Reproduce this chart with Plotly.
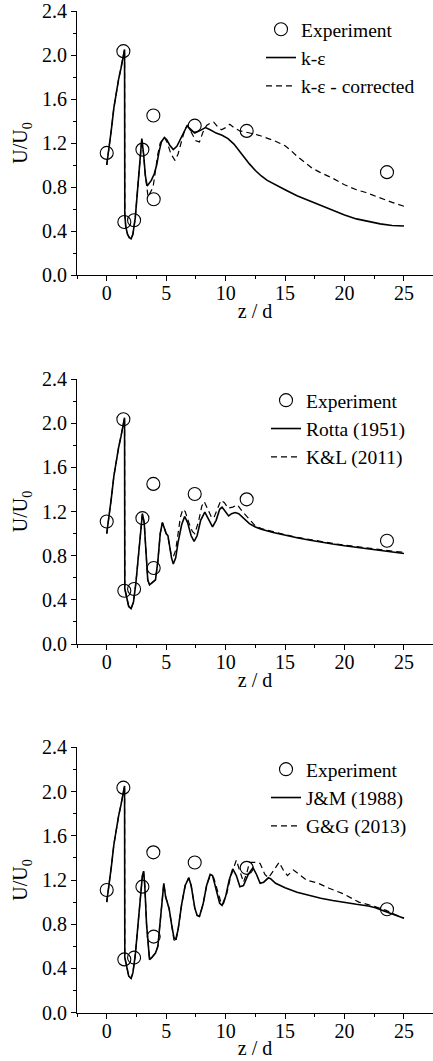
import plotly.graph_objects as go

# ---------------- data ----------------
exp_z = [0.0, 1.4, 1.48, 2.3, 3.0, 3.92, 3.95, 7.4, 11.77, 23.57]
exp_u = [1.11, 2.035, 0.482, 0.498, 1.14, 1.45, 0.688, 1.358, 1.31, 0.935]

# panel 1
ke_z = [0, 0.2, 0.4, 0.6, 0.8, 1.0, 1.2, 1.4, 1.5, 1.52, 1.6, 1.75, 1.9, 2.05, 2.2, 2.4, 2.6, 2.8, 2.95,
        3.1, 3.25, 3.4, 3.55, 3.75, 4.0, 4.2, 4.4, 4.6, 4.85, 5.05, 5.3, 5.6, 5.9, 6.2, 6.5, 6.75, 7.0,
        7.4, 7.8, 8.3, 8.7, 9.2, 9.7, 10.2, 10.7, 11.2, 11.6, 12.0, 12.5, 13.0, 13.5, 14.0, 15.0, 16.0,
        17.0, 18.0, 19.0, 20.0, 21.0, 22.0, 23.0, 24.0, 25.0]
ke_u = [1.0, 1.15, 1.33, 1.52, 1.67, 1.78, 1.88, 1.99, 2.05, 0.55, 0.44, 0.37, 0.34, 0.33, 0.37, 0.52, 0.76, 1.02, 1.24,
        1.1, 0.9, 0.81, 0.83, 0.86, 0.92, 1.0, 1.12, 1.21, 1.25, 1.23, 1.18, 1.14, 1.17, 1.24, 1.31, 1.355, 1.33,
        1.29, 1.31, 1.34, 1.32, 1.29, 1.27, 1.24, 1.19, 1.12, 1.06, 1.01, 0.95, 0.90, 0.86, 0.83, 0.775, 0.72,
        0.675, 0.63, 0.585, 0.545, 0.51, 0.485, 0.465, 0.45, 0.445]

kec_z = [0, 0.2, 0.4, 0.6, 0.8, 1.0, 1.2, 1.4, 1.5, 1.52, 1.6, 1.75, 1.9, 2.05, 2.2, 2.4, 2.6, 2.8, 2.95,
         3.1, 3.25, 3.48, 3.7, 3.9, 4.1, 4.3, 4.5, 4.85, 5.1, 5.4, 5.75, 6.0, 6.3, 6.6, 6.8, 7.1, 7.5, 7.8,
         8.1, 8.4, 8.7, 9.0, 9.3, 9.65, 10.0, 10.35, 10.7, 11.2, 11.7, 12.3, 12.8, 13.5, 14.0, 14.5, 15.0,
         15.5, 16.0, 16.7, 17.3, 17.9, 19.0, 20.0, 21.0, 21.8, 22.5, 23.2, 24.0, 25.0]
kec_u = [1.0, 1.15, 1.33, 1.52, 1.67, 1.78, 1.88, 1.99, 2.05, 0.55, 0.44, 0.37, 0.34, 0.33, 0.37, 0.52, 0.76, 1.02, 1.24,
         1.1, 0.9, 0.71, 0.76, 0.8, 0.95, 1.1, 1.2, 1.25, 1.2, 1.1, 1.04, 1.1, 1.22, 1.33, 1.36, 1.3, 1.22, 1.21,
         1.3, 1.36, 1.38, 1.39, 1.35, 1.32, 1.34, 1.37, 1.34, 1.31, 1.30, 1.285, 1.27, 1.245, 1.225, 1.2, 1.175,
         1.13, 1.08, 1.02, 0.97, 0.935, 0.88, 0.82, 0.775, 0.75, 0.72, 0.69, 0.66, 0.625]

# panel 2
rotta_z = [0, 0.2, 0.4, 0.6, 0.8, 1.0, 1.2, 1.4, 1.5, 1.52, 1.7, 1.85, 2.05, 2.25, 2.45, 2.65, 2.85, 3.0,
           3.15, 3.3, 3.45, 3.6, 3.9, 4.1, 4.3, 4.5, 4.68, 4.85, 5.0, 5.15, 5.3, 5.45, 5.6, 5.8, 6.0, 6.3,
           6.55, 6.8, 7.1, 7.35, 7.6, 7.9, 8.25, 8.55, 8.9, 9.2, 9.5, 9.7, 9.95, 10.25, 10.5, 10.8, 11.1,
           11.5, 12.0, 12.5, 13.0, 14.0, 15.0, 16.0, 17.0, 18.0, 19.0, 20.0, 21.0, 22.0, 23.0, 24.0, 25.0]
rotta_u = [1.0, 1.15, 1.33, 1.52, 1.67, 1.78, 1.88, 1.99, 2.05, 0.5, 0.40, 0.34, 0.32, 0.38, 0.55, 0.8, 1.05, 1.18,
           1.1, 0.8, 0.58, 0.535, 0.56, 0.58, 0.75, 1.0, 1.1, 1.04, 1.0, 0.98, 0.88, 0.78, 0.725, 0.78, 0.92, 1.08,
           1.155, 1.1, 0.98, 0.93, 0.98, 1.12, 1.195, 1.13, 1.06, 1.12, 1.22, 1.24, 1.2, 1.16, 1.18, 1.19, 1.18,
           1.14, 1.09, 1.06, 1.04, 1.01, 0.985, 0.962, 0.942, 0.922, 0.905, 0.89, 0.875, 0.86, 0.845, 0.833, 0.82]

kl_z = [0, 0.2, 0.4, 0.6, 0.8, 1.0, 1.2, 1.4, 1.5, 1.52, 1.7, 1.85, 2.05, 2.25, 2.45, 2.65, 2.85, 3.0,
        3.15, 3.3, 3.45, 3.6, 3.9, 4.1, 4.3, 4.5, 4.68, 4.85, 5.0, 5.15, 5.4, 5.6, 5.8, 6.0, 6.2, 6.4, 6.6,
        6.9, 7.2, 7.4, 7.7, 8.0, 8.2, 8.5, 8.8, 9.0, 9.3, 9.6, 9.9, 10.2, 10.6, 11.0, 11.4, 11.8, 12.1, 12.5,
        13.0, 14.0, 15.0, 16.0, 17.0, 18.0, 19.0, 20.0, 21.0, 22.0, 23.0, 24.0, 25.0]
kl_u = [1.0, 1.15, 1.33, 1.52, 1.67, 1.78, 1.88, 1.99, 2.05, 0.5, 0.40, 0.34, 0.32, 0.38, 0.55, 0.8, 1.05, 1.18,
        1.1, 0.8, 0.58, 0.535, 0.56, 0.58, 0.75, 1.0, 1.1, 1.04, 1.0, 0.97, 0.82, 0.79, 0.85, 1.0, 1.15, 1.22, 1.2,
        1.1, 1.02, 1.0, 1.1, 1.25, 1.29, 1.22, 1.15, 1.14, 1.22, 1.30, 1.28, 1.23, 1.24, 1.26, 1.2, 1.15, 1.12, 1.07,
        1.045, 1.015, 0.99, 0.967, 0.947, 0.927, 0.911, 0.896, 0.881, 0.866, 0.852, 0.841, 0.83]

# panel 3
jm_z = [0, 0.2, 0.4, 0.6, 0.8, 1.0, 1.2, 1.4, 1.5, 1.52, 1.7, 1.85, 2.05, 2.2, 2.4, 2.6, 2.8, 3.0, 3.1,
        3.2, 3.35, 3.5, 3.6, 3.8, 4.1, 4.3, 4.5, 4.65, 4.8, 4.95, 5.1, 5.25, 5.45, 5.65, 5.8, 6.0, 6.3, 6.6,
        6.9, 7.1, 7.4, 7.6, 7.8, 8.1, 8.4, 8.7, 8.9, 9.2, 9.5, 9.7, 10.0, 10.3, 10.6, 10.9, 11.2, 11.5, 11.9,
        12.3, 12.6, 12.9, 13.2, 13.6, 13.8, 14.2, 14.6, 15.0, 16.0, 17.0, 18.0, 19.0, 20.0, 21.0, 22.0, 22.6,
        23.2, 23.7, 24.3, 25.0]
jm_u = [1.0, 1.15, 1.33, 1.52, 1.67, 1.78, 1.88, 1.99, 2.05, 0.5, 0.40, 0.33, 0.31, 0.36, 0.52, 0.78, 1.05, 1.24, 1.28,
        1.15, 0.8, 0.55, 0.48, 0.5, 0.54, 0.6, 0.85, 1.05, 1.17, 1.05, 0.98, 0.94, 0.8, 0.68, 0.66, 0.75, 0.98, 1.15,
        1.22, 1.15, 0.95, 0.88, 0.87, 0.98, 1.15, 1.25, 1.24, 1.1, 0.99, 0.97, 1.05, 1.2, 1.30, 1.24, 1.14, 1.15, 1.25,
        1.31, 1.25, 1.17, 1.18, 1.22, 1.21, 1.17, 1.15, 1.13, 1.09, 1.06, 1.035, 1.015, 0.995, 0.98, 0.965, 0.95,
        0.925, 0.905, 0.875, 0.853]

gg_z = [0, 0.2, 0.4, 0.6, 0.8, 1.0, 1.2, 1.4, 1.5, 1.52, 1.7, 1.85, 2.05, 2.2, 2.4, 2.6, 2.8, 3.0, 3.1,
        3.2, 3.35, 3.5, 3.6, 3.8, 4.1, 4.3, 4.5, 4.65, 4.8, 4.95, 5.1, 5.25, 5.45, 5.65, 5.8, 6.0, 6.3, 6.6,
        6.9, 7.1, 7.4, 7.6, 7.8, 8.1, 8.4, 8.7, 9.0, 9.3, 9.6, 9.8, 10.1, 10.4, 10.9, 11.2, 11.5, 11.8, 12.0,
        12.5, 12.9, 13.3, 13.6, 14.0, 14.5, 14.9, 15.2, 15.7, 16.3, 16.8, 17.8, 18.7, 19.9, 21.2, 22.4, 23.5,
        24.3, 25.0]
gg_u = [1.0, 1.15, 1.33, 1.52, 1.67, 1.78, 1.88, 1.99, 2.05, 0.5, 0.40, 0.33, 0.31, 0.36, 0.52, 0.78, 1.05, 1.24, 1.28,
        1.15, 0.8, 0.55, 0.48, 0.5, 0.54, 0.6, 0.85, 1.05, 1.17, 1.05, 0.98, 0.94, 0.8, 0.66, 0.64, 0.75, 0.98, 1.15,
        1.22, 1.15, 0.95, 0.88, 0.87, 0.98, 1.15, 1.24, 1.22, 1.12, 1.0, 0.98, 1.08, 1.22, 1.38, 1.28, 1.18, 1.27, 1.36,
        1.36, 1.35, 1.25, 1.22, 1.28, 1.36, 1.28, 1.24, 1.29, 1.24, 1.2, 1.17, 1.125, 1.075, 1.0, 0.965, 0.925,
        0.885, 0.855]

panels = [
    (ke_z, ke_u, "k-ε", kec_z, kec_u, "k-ε - corrected"),
    (rotta_z, rotta_u, "Rotta (1951)", kl_z, kl_u, "K&L (2011)"),
    (jm_z, jm_u, "J&M (1988)", gg_z, gg_u, "G&G (2013)"),
]

# ---------------- figure ----------------
W, H = 433, 1061
FONT = "Liberation Serif, Times New Roman, Tinos, DejaVu Serif, serif"
ydomains = [(1 - 275 / H, 1 - 11 / H), (1 - 644 / H, 1 - 379 / H), (1 - 1012.7 / H, 1 - 747.3 / H)]
legend_pos = [(261, 10), (266, 381), (266, 750)]

fig = go.Figure()
layout = dict(width=W, height=H, margin=dict(l=0, r=0, t=0, b=0),
              paper_bgcolor="white", plot_bgcolor="white",
              font=dict(family=FONT, size=20, color="black"), showlegend=True)

for i, (sz, su, sname, dz, du, dname) in enumerate(panels):
    n = "" if i == 0 else str(i + 1)
    xa, ya = "x" + n, "y" + n
    leg = "legend" + n
    fig.add_trace(go.Scatter(x=exp_z, y=exp_u, mode="markers", name="Experiment",
                             marker=dict(symbol="circle-open", size=13, color="black", line=dict(width=1.1)),
                             xaxis=xa, yaxis=ya, legend=leg))
    fig.add_trace(go.Scatter(x=sz, y=su, mode="lines", name=sname,
                             line=dict(color="black", width=1.6), xaxis=xa, yaxis=ya, legend=leg))
    fig.add_trace(go.Scatter(x=dz, y=du, mode="lines", name=dname,
                             line=dict(color="black", width=1.2, dash="6px,4px"), xaxis=xa, yaxis=ya, legend=leg))

    layout["xaxis" + n] = dict(
        domain=[77 / W, 1], range=[-2.5, 27.44], anchor=ya,
        showline=True, linecolor="black", linewidth=1.2, showgrid=False, zeroline=False,
        ticks="outside", ticklen=5, tickwidth=1.2, tickcolor="black", dtick=5, tick0=0,
        ticklabelstandoff=-5,
        minor=dict(dtick=2.5, tick0=0, ticks="outside", ticklen=3, tickwidth=1, tickcolor="black"),
        tickfont=dict(family=FONT, size=20, color="black"),
        title=dict(text="z / d", font=dict(family=FONT, size=20, color="black"), standoff=0),
        automargin=False)
    layout["yaxis" + n] = dict(
        domain=list(ydomains[i]), range=[0, 2.4], anchor=xa,
        showline=True, linecolor="black", linewidth=1.2, showgrid=False, zeroline=False,
        ticks="outside", ticklen=5, tickwidth=1.2, tickcolor="black", dtick=0.4, tick0=0, tickformat=".1f",
        minor=dict(dtick=0.2, tick0=0, ticks="outside", ticklen=3, tickwidth=1, tickcolor="black"),
        tickfont=dict(family=FONT, size=20, color="black"),
        title=dict(text="U/U<sub>0</sub>", font=dict(family=FONT, size=20, color="black"), standoff=8),
        automargin=False)
    lx, ly = legend_pos[i]
    layout[leg] = dict(x=lx / W, y=1 - ly / H, xanchor="left", yanchor="top",
                       bgcolor="rgba(0,0,0,0)", borderwidth=0,
                       font=dict(family=FONT, size=19.5, color="black"), tracegroupgap=0)

fig.update_layout(**layout)
fig.write_html("out.html", config={"displayModeBar": False},
               post_script="document.body.style.margin='0';")
